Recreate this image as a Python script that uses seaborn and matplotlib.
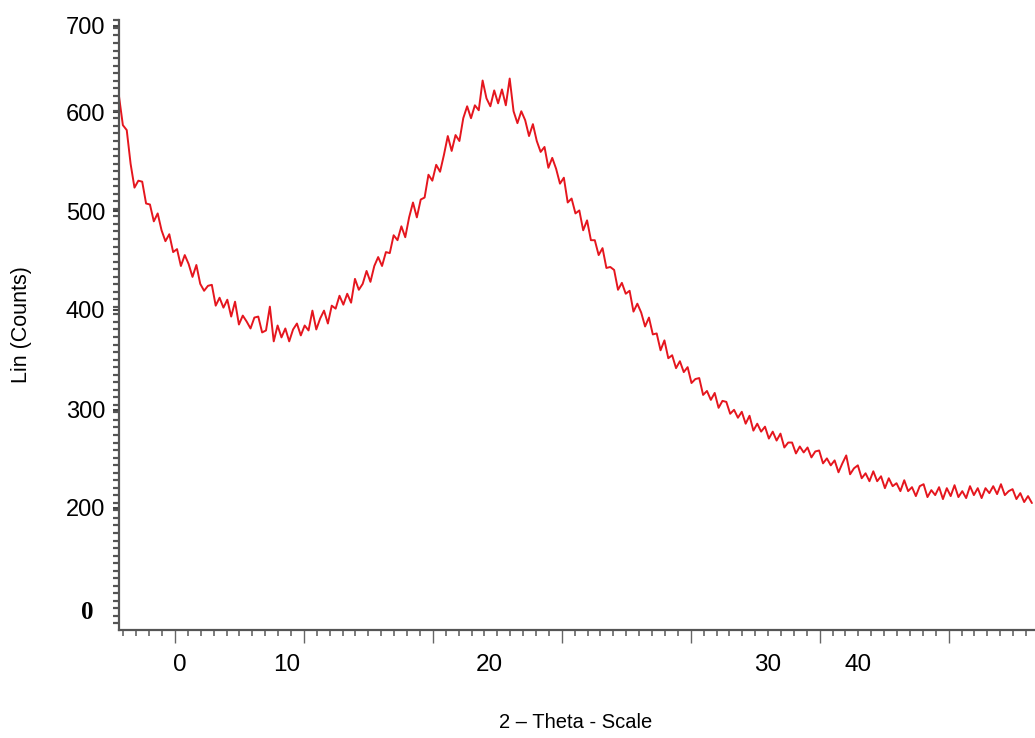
import numpy as np
import matplotlib
matplotlib.use("Agg")
import matplotlib.pyplot as plt
from matplotlib.ticker import MultipleLocator, FixedLocator
from matplotlib.transforms import blended_transform_factory
import seaborn as sns

# ---- data -------------------------------------------------------------
scan_start = 5.66   # first 2-theta value of the scan
scan_step = 0.3     # 2-theta step of the scan

counts = [
    615, 586, 581, 547, 523, 530, 529, 507, 506, 489,
    497, 480, 469, 476, 458, 461, 444, 455, 446, 433,
    445, 426, 419, 424, 425, 404, 412, 402, 410, 393,
    408, 385, 394, 388, 381, 392, 393, 377, 379, 403,
    368, 384, 372, 381, 368, 380, 386, 374, 384, 379,
    399, 380, 391, 399, 386, 404, 401, 414, 405, 416,
    407, 431, 420, 426, 439, 428, 444, 453, 444, 458,
    457, 475, 470, 484, 473, 493, 508, 493, 511, 513,
    536, 530, 546, 539, 556, 575, 560, 576, 570, 593,
    605, 593, 606, 601, 631, 613, 605, 621, 608, 622,
    606, 633, 600, 588, 600, 591, 575, 587, 570, 559,
    564, 543, 553, 542, 527, 533, 508, 512, 497, 500,
    480, 490, 470, 470, 455, 462, 442, 443, 440, 420,
    427, 416, 419, 398, 406, 397, 383, 392, 375, 376,
    359, 369, 351, 354, 341, 348, 337, 342, 326, 330,
    331, 314, 318, 309, 316, 301, 308, 307, 295, 299,
    291, 297, 285, 293, 278, 285, 277, 282, 270, 277,
    268, 275, 261, 266, 266, 255, 262, 256, 261, 251,
    257, 258, 245, 250, 243, 248, 236, 245, 253, 234,
    240, 243, 230, 235, 227, 237, 227, 232, 220, 230,
    222, 225, 217, 228, 217, 221, 212, 222, 224, 211,
    218, 213, 221, 209, 220, 212, 223, 211, 217, 210,
    222, 213, 220, 210, 220, 215, 222, 214, 224, 213,
    217, 219, 209, 215, 206, 212, 205,
]
two_theta = scan_start + scan_step * np.arange(len(counts))

# tick labels as printed on the original figure
x_tick_labels = ["0", "10", "20", "30", "40"]
x_tick_pos = [10.4, 18.7, 34.4, 56.0, 63.0]
y_tick_labels = ["200", "300", "400", "500", "600", "700"]
y_tick_pos = [200, 299, 400, 499, 599, 686]
y_zero_label = "0"
y_zero_pos = 95

# ---- style ------------------------------------------------------------
sns.set_style("white")
plt.rcParams["font.family"] = ["Liberation Sans", "DejaVu Sans"]
plt.rcParams["text.color"] = "black"
plt.rcParams["axes.labelcolor"] = "black"
plt.rcParams["xtick.color"] = "black"
plt.rcParams["ytick.color"] = "black"

fig = plt.figure(figsize=(10.35, 7.38), dpi=100)
ax = fig.add_axes([119 / 1035, 108 / 738, 916 / 1035, 610 / 738])

sns.lineplot(x=two_theta, y=counts, ax=ax, color="#e5161e",
             linewidth=1.4, estimator=None)

ax.set_xlim(5.66, 76.7)
ax.set_ylim(77, 692)

for s in ("top", "right"):
    ax.spines[s].set_visible(False)
for s in ("left", "bottom"):
    ax.spines[s].set_color("#555555")
    ax.spines[s].set_linewidth(1.6)

# x ticks: long ticks every 10, short every 1, labels placed as in original
ax.xaxis.set_major_locator(MultipleLocator(10))
ax.xaxis.set_minor_locator(MultipleLocator(1))
ax.tick_params(axis="x", which="major", length=9, width=1.0, color="#666666",
               labelbottom=False, bottom=True)
ax.tick_params(axis="x", which="minor", length=4, width=1.2, color="#666666",
               bottom=True)
tr = blended_transform_factory(ax.transData, ax.transAxes)
for lab, pos in zip(x_tick_labels, x_tick_pos):
    ax.text(pos, -0.057, lab, transform=tr, ha="center", va="center",
            fontsize=17.5, color="black")

# y ticks
ax.yaxis.set_major_locator(FixedLocator(y_tick_pos))
ax.set_yticklabels(y_tick_labels)
ax.yaxis.set_minor_locator(MultipleLocator(7.6))
ax.tick_params(axis="y", which="major", length=4, width=1.5, color="#444444",
               labelsize=17, labelcolor="black", pad=6, left=True)
ax.tick_params(axis="y", which="minor", length=4, width=1.6, color="#555555",
               left=True)
tr_y = blended_transform_factory(ax.transAxes, ax.transData)
ax.text(-0.028, y_zero_pos, y_zero_label, transform=tr_y, ha="right",
        va="center", fontsize=18, fontweight="bold", color="black",
        family=["Liberation Serif", "DejaVu Serif"])

ax.set_xlabel("2 \u2013 Theta - Scale", fontsize=14.5, va="center",
              color="black")
ax.xaxis.set_label_coords(0.498, -0.151)
ax.set_ylabel("Lin (Counts)", fontsize=15.5, va="center", color="black")
ax.yaxis.set_label_coords(-0.106, 0.5)

ax.grid(False)
fig.savefig("out.png", dpi=100, facecolor="white")
